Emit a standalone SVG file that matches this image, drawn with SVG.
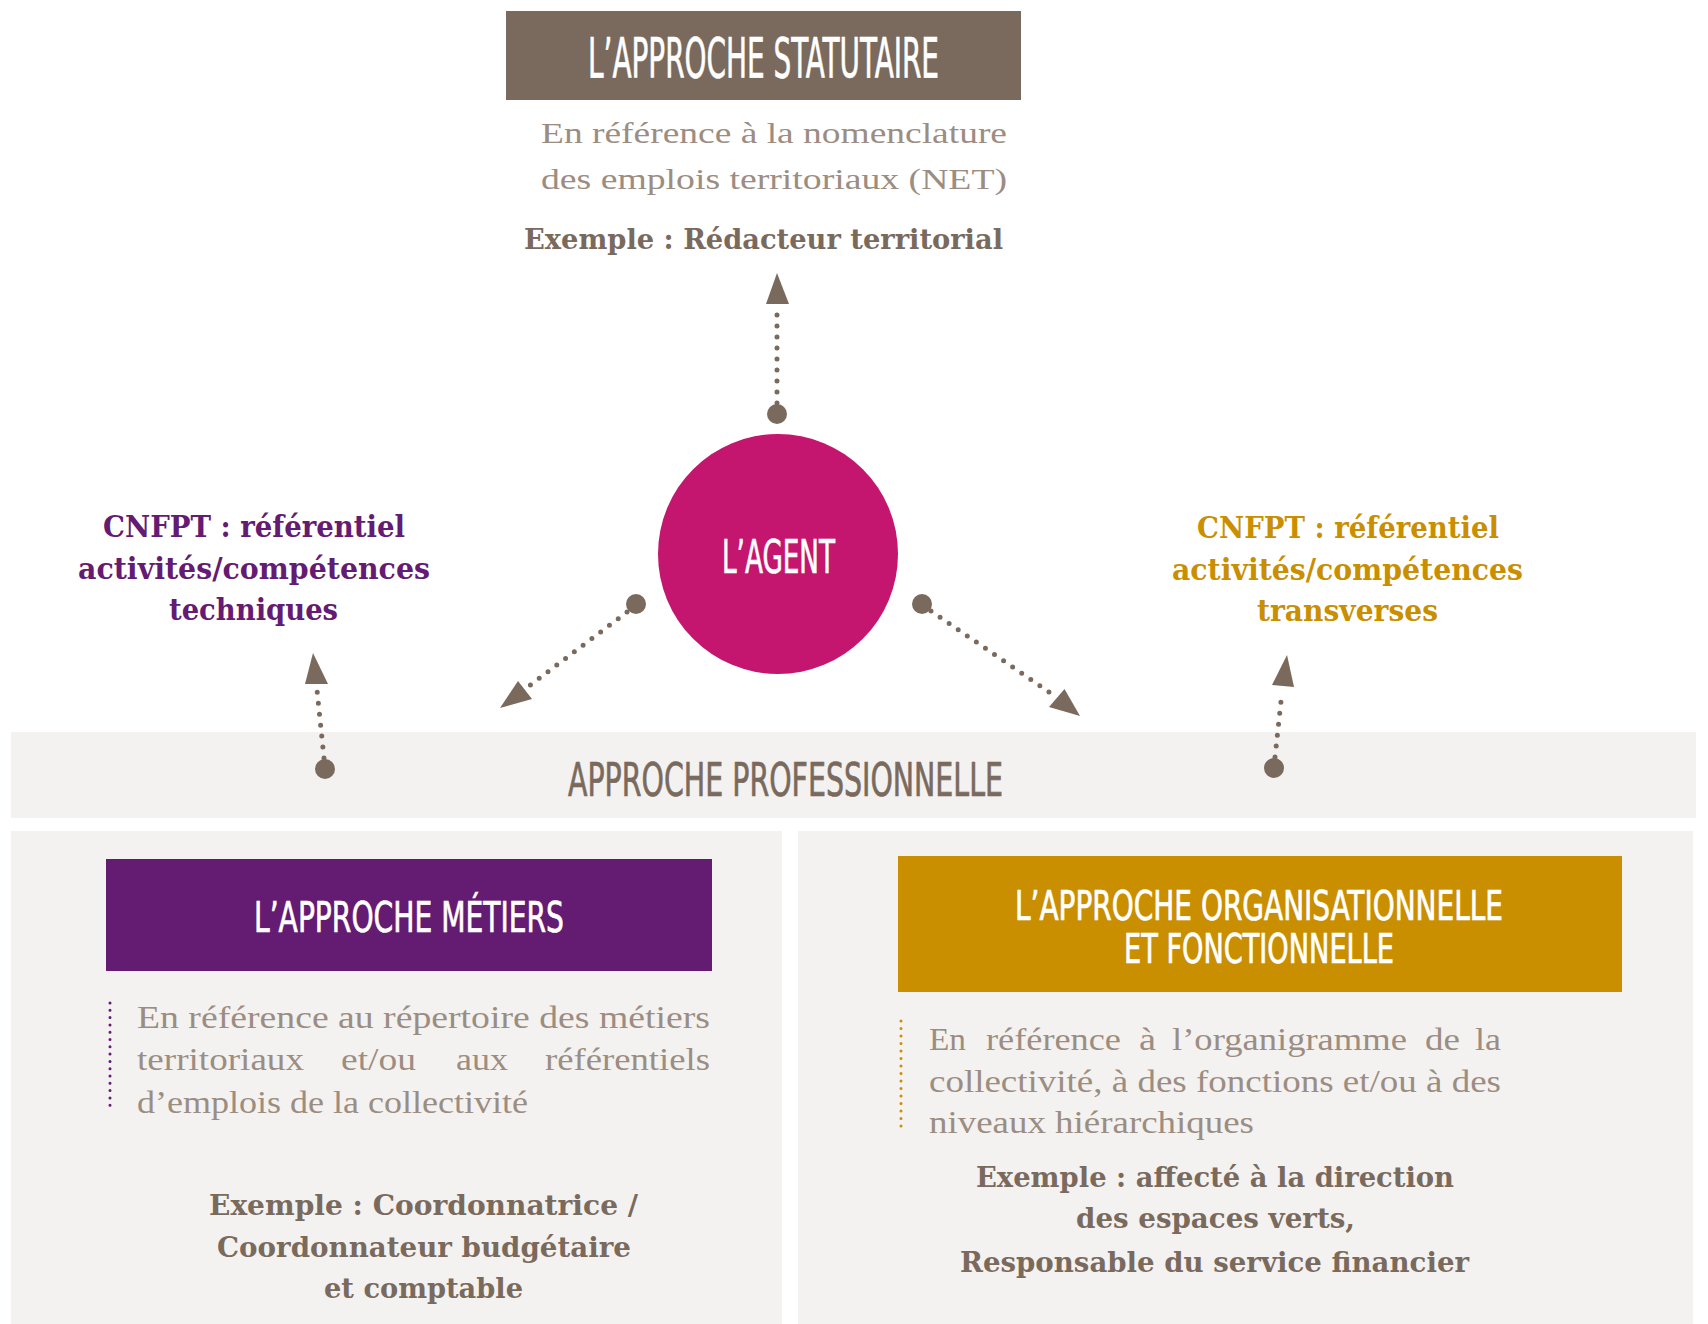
<svg xmlns="http://www.w3.org/2000/svg" width="1708" height="1324" viewBox="0 0 1708 1324">
<style>
.cond{font-family:"Liberation Sans Narrow","DejaVu Sans Condensed","Liberation Sans",sans-serif;fill:#fff;stroke:#fff;stroke-width:0.7px}
.serif{font-family:"Liberation Serif","DejaVu Serif",serif}
.slab{font-family:"DejaVu Serif Condensed","DejaVu Serif","Liberation Serif",serif;font-weight:bold}
.body{fill:#9c8d82;font-size:29px}
.body2{fill:#9c8d82;font-size:31px}
.ex{fill:#7a6a5d;font-size:28px}
.cn{font-size:30px}
.dots{stroke:#7a6a5d;stroke-width:5;stroke-linecap:round;stroke-dasharray:0 11;fill:none}
.head{fill:#7a6a5d}
.panel{fill:#f3f2f0}
</style>
<rect width="1708" height="1324" fill="#fff"/>

<g id="band">
<rect class="panel" x="11" y="732" width="1685" height="86"/>
<text class="cond" x="568" y="796" font-size="46" style="fill:#7a6a5d;stroke:#7a6a5d" textLength="435" lengthAdjust="spacingAndGlyphs">APPROCHE PROFESSIONNELLE</text>
</g>

<g id="statutaire">
<rect x="506" y="11" width="515" height="89" fill="#7a6a5d"/>
<text class="cond" x="588" y="77" font-size="55" textLength="351" lengthAdjust="spacingAndGlyphs">L’APPROCHE STATUTAIRE</text>
<text class="serif body" x="541" y="143" textLength="466" lengthAdjust="spacingAndGlyphs">En référence à la nomenclature</text>
<text class="serif body" x="541" y="189" textLength="466" lengthAdjust="spacingAndGlyphs">des emplois territoriaux (NET)</text>
<text class="slab ex" x="524" y="249" textLength="479" lengthAdjust="spacingAndGlyphs">Exemple : Rédacteur territorial</text>
</g>

<g id="agent">
<circle cx="778" cy="554" r="120" fill="#c4166f"/>
<text class="cond" x="722" y="573" font-size="46" textLength="113" lengthAdjust="spacingAndGlyphs">L’AGENT</text>
</g>

<g id="cnfpt-techniques" class="slab cn" fill="#641b72">
<text x="103" y="537" textLength="302" lengthAdjust="spacingAndGlyphs">CNFPT : référentiel</text>
<text x="78" y="579" textLength="352" lengthAdjust="spacingAndGlyphs">activités/compétences</text>
<text x="169" y="620" textLength="169" lengthAdjust="spacingAndGlyphs">techniques</text>
</g>

<g id="cnfpt-transverses" class="slab cn" fill="#c98f00">
<text x="1197" y="538" textLength="302" lengthAdjust="spacingAndGlyphs">CNFPT : référentiel</text>
<text x="1172" y="580" textLength="351" lengthAdjust="spacingAndGlyphs">activités/compétences</text>
<text x="1257" y="621" textLength="181" lengthAdjust="spacingAndGlyphs">transverses</text>
</g>

<g id="metiers">
<rect class="panel" x="11" y="831" width="771" height="493"/>
<rect x="106" y="859" width="606" height="112" fill="#641b72"/>
<text class="cond" x="254" y="932" font-size="42" textLength="310" lengthAdjust="spacingAndGlyphs">L’APPROCHE MÉTIERS</text>
<line x1="110" y1="1003" x2="110" y2="1112" stroke="#641b72" stroke-width="3" stroke-linecap="round" stroke-dasharray="0 7.3"/>
<text class="serif body2" x="137" y="1028" textLength="573" lengthAdjust="spacingAndGlyphs">En référence au répertoire des métiers</text>
<text class="serif body2" y="1070"><tspan x="137" textLength="167" lengthAdjust="spacingAndGlyphs">territoriaux</tspan><tspan x="341" textLength="75" lengthAdjust="spacingAndGlyphs">et/ou</tspan><tspan x="456" textLength="52" lengthAdjust="spacingAndGlyphs">aux</tspan><tspan x="545" textLength="165" lengthAdjust="spacingAndGlyphs">référentiels</tspan></text>
<text class="serif body2" x="137" y="1113" textLength="391" lengthAdjust="spacingAndGlyphs">d’emplois de la collectivité</text>
<text class="slab ex" x="209" y="1215" textLength="429" lengthAdjust="spacingAndGlyphs">Exemple : Coordonnatrice /</text>
<text class="slab ex" x="217" y="1257" textLength="414" lengthAdjust="spacingAndGlyphs">Coordonnateur budgétaire</text>
<text class="slab ex" x="324" y="1298" textLength="199" lengthAdjust="spacingAndGlyphs">et comptable</text>
</g>

<g id="organisationnelle">
<rect class="panel" x="798" y="831" width="895" height="493"/>
<rect x="898" y="856" width="724" height="136" fill="#c98f00"/>
<text class="cond" x="1015" y="920" font-size="40" textLength="488" lengthAdjust="spacingAndGlyphs">L’APPROCHE ORGANISATIONNELLE</text>
<text class="cond" x="1124" y="963" font-size="40" textLength="270" lengthAdjust="spacingAndGlyphs">ET FONCTIONNELLE</text>
<line x1="901" y1="1021" x2="901" y2="1133" stroke="#c98f00" stroke-width="3" stroke-linecap="round" stroke-dasharray="0 7.5"/>
<text class="serif body2" y="1050"><tspan x="929" textLength="37" lengthAdjust="spacingAndGlyphs">En</tspan><tspan x="986" textLength="135" lengthAdjust="spacingAndGlyphs">référence</tspan><tspan x="1139" textLength="17" lengthAdjust="spacingAndGlyphs">à</tspan><tspan x="1172" textLength="235" lengthAdjust="spacingAndGlyphs">l’organigramme</tspan><tspan x="1425" textLength="35" lengthAdjust="spacingAndGlyphs">de</tspan><tspan x="1475" textLength="26" lengthAdjust="spacingAndGlyphs">la</tspan></text>
<text class="serif body2" x="929" y="1092" textLength="572" lengthAdjust="spacingAndGlyphs">collectivité, à des fonctions et/ou à des</text>
<text class="serif body2" x="929" y="1133" textLength="325" lengthAdjust="spacingAndGlyphs">niveaux hiérarchiques</text>
<text class="slab ex" x="976" y="1187" textLength="478" lengthAdjust="spacingAndGlyphs">Exemple : affecté à la direction</text>
<text class="slab ex" x="1076" y="1228" textLength="279" lengthAdjust="spacingAndGlyphs">des espaces verts,</text>
<text class="slab ex" x="960" y="1272" textLength="509" lengthAdjust="spacingAndGlyphs">Responsable du service financier</text>
</g>

<g id="connectors">
<circle class="head" cx="777" cy="414" r="10"/>
<line class="dots" x1="777" y1="403" x2="777" y2="310"/>
<polygon class="head" points="777,273 766,304 789,304"/>
<circle class="head" cx="636" cy="604" r="10"/>
<line class="dots" x1="627" y1="612" x2="529" y2="686"/>
<polygon class="head" points="500,708 518,681 532,699"/>
<circle class="head" cx="922" cy="604" r="10"/>
<line class="dots" x1="931" y1="611" x2="1052" y2="694"/>
<polygon class="head" points="1080,716 1049,707 1064.5,689"/>
<circle class="head" cx="325" cy="769" r="10"/>
<line class="dots" x1="324" y1="758" x2="317" y2="690"/>
<polygon class="head" points="313,653 305,684 328,684"/>
<circle class="head" cx="1274" cy="768" r="10"/>
<line class="dots" x1="1275" y1="757" x2="1282" y2="692"/>
<polygon class="head" points="1287,655 1272,685 1294,687"/>
</g>
</svg>
